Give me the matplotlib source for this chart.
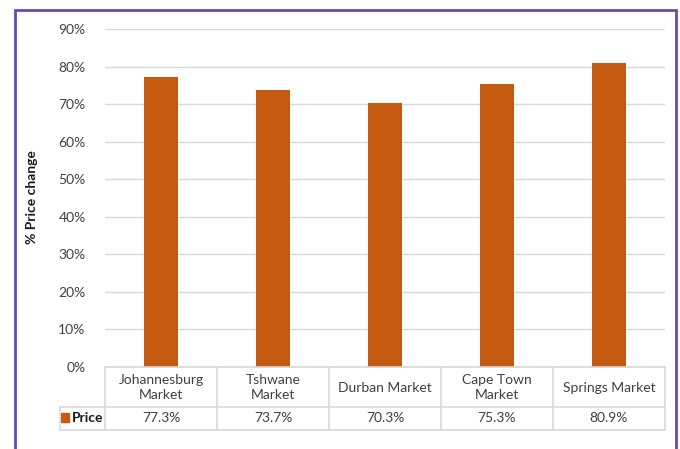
import numpy as np
import matplotlib.pyplot as plt
from matplotlib.patches import Rectangle
from matplotlib.lines import Line2D

plt.rcParams['font.family'] = ['Lato', 'DejaVu Sans']

# data
markets = ["Johannesburg\nMarket", "Tshwane\nMarket", "Durban Market", "Cape Town\nMarket", "Springs Market"]
price = [0.773, 0.737, 0.703, 0.753, 0.809]
yticks = [0, 0.1, 0.2, 0.3, 0.4, 0.5, 0.6, 0.7, 0.8, 0.9]

W, H = 680, 449
bar_col = '#C55A11'
txt_col = '#404040'
grid_col = '#D9D9D9'

fig = plt.figure(figsize=(W / 100, H / 100), dpi=100)

def fx(px):
    return px / W

def fy(py):
    return 1 - py / H

# plot area in pixels
x0, x1, ytop, ybot = 105, 665, 29, 367
ax = fig.add_axes([fx(x0), fy(ybot), fx(x1) - fx(x0), fy(ytop) - fy(ybot)])

n = len(markets)
xs = np.arange(n)
ax.bar(xs, price, width=0.31, color=bar_col, zorder=3)
ax.set_xlim(-0.5, n - 0.5)
ax.set_ylim(0, 0.9)
ax.set_yticks(yticks)
ax.set_yticklabels(["{:.0f}%".format(v * 100) for v in yticks], color=txt_col, fontsize=10)
ax.set_xticks([])
ax.tick_params(axis='y', length=0, pad=14)
ax.grid(axis='y', color=grid_col, lw=1, zorder=0)
for s in ax.spines.values():
    s.set_visible(False)

fig.text(fx(32), fy(197), "% Price change", rotation=90, ha='center', va='center',
         fontsize=10, fontweight='bold', color='#1a1a1a')

# data table below the plot
r0, r1, r2 = 367, 407, 430
leg_x = 60
cell = (x1 - x0) / n

def hline(y, xa, xb):
    fig.add_artist(Line2D([fx(xa), fx(xb)], [fy(y), fy(y)], color=grid_col, lw=1.2))

def vline(x, ya, yb):
    fig.add_artist(Line2D([fx(x), fx(x)], [fy(ya), fy(yb)], color=grid_col, lw=1.2))

hline(r0, x0, x1)
hline(r1, leg_x, x1)
hline(r2, leg_x, x1)
vline(leg_x, r1, r2)
for i in range(n + 1):
    vline(x0 + i * cell, r0, r2)

for i, (m, p) in enumerate(zip(markets, price)):
    cx = x0 + (i + 0.5) * cell
    fig.text(fx(cx), fy((r0 + r1) / 2 + 0.5), m, ha='center', va='center', fontsize=10,
             color=txt_col, linespacing=1.35)
    fig.text(fx(cx), fy((r1 + r2) / 2), "{:.1f}%".format(p * 100), ha='center', va='center',
             fontsize=10, color=txt_col)

fig.add_artist(Rectangle((fx(61), fy(422)), fx(8), fy(413) - fy(422), color=bar_col,
                         transform=fig.transFigure))
fig.text(fx(72), fy((r1 + r2) / 2), "Price", ha='left', va='center', fontsize=10,
         fontweight='bold', color='#1a1a1a')

# purple chart border
fig.add_artist(Rectangle((fx(15), fy(460)), fx(676) - fx(15), fy(10) - fy(460), fill=False,
                         edgecolor='#6B4BA6', lw=2, transform=fig.transFigure))

fig.savefig("out.png", dpi=100)
